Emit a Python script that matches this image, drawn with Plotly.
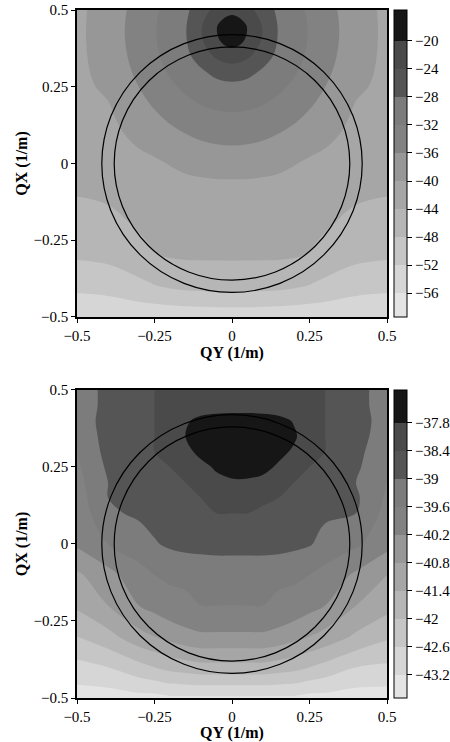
import plotly.graph_objects as go

# Grid coordinates (1/m)
qy = [-0.5, -0.4, -0.3, -0.25, -0.2, -0.15, -0.1, -0.05, 0.0,
      0.05, 0.1, 0.15, 0.2, 0.25, 0.3, 0.4, 0.5]
qx = [-0.5, -0.4, -0.3, -0.2, -0.1, 0.0, 0.1, 0.15, 0.2,
      0.25, 0.3, 0.35, 0.4, 0.45, 0.5]

# Upper map: levels (dB), one row per qx value
level_upper = [
    [-55.5, -55.3, -55.0, -54.9, -54.8, -54.7, -54.6, -54.5, -54.5, -54.5, -54.6, -54.7, -54.8, -54.9, -55.0, -55.3, -55.5],
    [-51.0, -50.5, -49.0, -48.2, -47.5, -47.0, -46.8, -46.6, -46.5, -46.6, -46.8, -47.0, -47.5, -48.2, -49.0, -50.5, -51.0],
    [-47.5, -47.0, -45.5, -44.2, -43.7, -43.5, -43.5, -43.5, -43.5, -43.5, -43.5, -43.5, -43.7, -44.2, -45.5, -47.0, -47.5],
    [-46.5, -45.5, -43.5, -43.1, -42.9, -42.8, -42.8, -42.8, -42.8, -42.8, -42.8, -42.8, -42.9, -43.1, -43.5, -45.5, -46.5],
    [-43.8, -43.2, -42.2, -42.0, -41.9, -41.8, -41.8, -41.8, -41.8, -41.8, -41.8, -41.8, -41.9, -42.0, -42.2, -43.2, -43.8],
    [-41.89, -41.31, -40.78, -40.55, -39.83, -39.09, -38.53, -38.19, -38.08, -38.19, -38.53, -39.09, -39.83, -40.55, -40.78, -41.31, -41.89],
    [-41.48, -40.82, -39.17, -37.93, -36.83, -35.90, -35.15, -34.68, -34.51, -34.68, -35.15, -35.90, -36.83, -37.93, -39.17, -40.82, -41.48],
    [-41.30, -40.60, -37.98, -36.63, -35.37, -34.25, -33.39, -32.84, -32.65, -32.84, -33.39, -34.25, -35.37, -36.63, -37.98, -40.60, -41.30],
    [-41.14, -40.08, -36.91, -35.40, -33.95, -32.69, -31.68, -31.02, -30.79, -31.02, -31.68, -32.69, -33.95, -35.40, -36.91, -40.08, -41.14],
    [-41.00, -39.33, -35.98, -34.27, -32.67, -31.23, -30.03, -29.22, -28.93, -29.22, -30.03, -31.23, -32.67, -34.27, -35.98, -39.33, -41.00],
    [-40.90, -38.74, -35.17, -33.34, -31.58, -29.94, -28.51, -26.86, -26.00, -26.86, -28.51, -29.94, -31.58, -33.34, -35.17, -38.74, -40.90],
    [-40.83, -38.34, -34.60, -32.67, -30.77, -28.93, -26.32, -23.31, -22.00, -23.31, -26.32, -28.93, -30.77, -32.67, -34.60, -38.34, -40.83],
    [-40.79, -38.11, -34.29, -32.30, -30.31, -28.34, -24.53, -20.53, -18.18, -20.53, -24.53, -28.34, -30.31, -32.30, -34.29, -38.11, -40.79],
    [-40.79, -38.10, -34.26, -32.26, -30.27, -28.28, -24.35, -20.19, -17.45, -20.19, -24.35, -28.28, -30.27, -32.26, -34.26, -38.10, -40.79],
    [-40.82, -38.27, -34.52, -32.57, -30.65, -28.77, -25.86, -22.66, -21.20, -22.66, -25.86, -28.77, -30.65, -32.57, -34.52, -38.27, -40.82],
]

# Lower map: levels (dB), one row per qx value
level_lower = [
    [-43.5, -43.5, -43.4, -43.4, -43.3, -43.3, -43.3, -43.3, -43.3, -43.3, -43.3, -43.3, -43.3, -43.4, -43.4, -43.5, -43.5],
    [-42.8, -42.6, -42.2, -42.0, -41.8, -41.7, -41.6, -41.6, -41.6, -41.6, -41.6, -41.7, -41.8, -42.0, -42.2, -42.6, -42.7],
    [-42.0, -41.6, -41.0, -40.8, -40.6, -40.4, -40.3, -40.3, -40.3, -40.3, -40.3, -40.4, -40.6, -40.8, -41.0, -41.5, -41.9],
    [-41.3, -40.8, -40.2, -40.0, -39.8, -39.7, -39.6, -39.6, -39.6, -39.6, -39.6, -39.7, -39.8, -40.0, -40.2, -40.8, -41.2],
    [-40.9, -40.4, -39.8, -39.6, -39.5, -39.5, -39.5, -39.5, -39.5, -39.5, -39.5, -39.5, -39.5, -39.6, -39.8, -40.3, -40.8],
    [-40.1, -39.6, -39.3, -39.05, -38.9, -38.8, -38.75, -38.7, -38.7, -38.7, -38.7, -38.75, -38.85, -38.95, -39.2, -39.5, -40.0],
    [-40.0, -39.1, -38.9, -38.8, -38.7, -38.6, -38.5, -38.4, -38.4, -38.4, -38.5, -38.6, -38.7, -38.8, -38.9, -39.0, -39.8],
    [-39.9, -39.0, -38.8, -38.7, -38.6, -38.5, -38.4, -38.3, -38.2, -38.2, -38.3, -38.4, -38.5, -38.6, -38.7, -38.9, -39.7],
    [-39.8, -39.0, -38.7, -38.6, -38.5, -38.4, -38.2, -38.0, -37.9, -37.9, -38.0, -38.2, -38.4, -38.5, -38.6, -39.0, -39.6],
    [-39.7, -38.9, -38.6, -38.5, -38.4, -38.2, -38.0, -37.7, -37.5, -37.5, -37.6, -37.9, -38.2, -38.4, -38.5, -38.9, -39.5],
    [-39.6, -38.8, -38.5, -38.4, -38.3, -38.0, -37.6, -37.4, -37.3, -37.3, -37.4, -37.6, -37.9, -38.3, -38.4, -38.8, -39.5],
    [-39.6, -38.7, -38.5, -38.4, -38.2, -37.8, -37.4, -37.3, -37.2, -37.2, -37.3, -37.4, -37.7, -38.2, -38.4, -38.7, -39.4],
    [-39.6, -38.6, -38.5, -38.4, -38.3, -37.9, -37.6, -37.5, -37.5, -37.5, -37.5, -37.6, -37.85, -38.3, -38.4, -38.6, -39.4],
    [-39.6, -38.7, -38.5, -38.4, -38.3, -38.25, -38.2, -38.15, -38.1, -38.1, -38.15, -38.2, -38.25, -38.3, -38.4, -38.7, -39.4],
    [-39.6, -38.7, -38.5, -38.4, -38.3, -38.25, -38.2, -38.15, -38.1, -38.1, -38.15, -38.2, -38.25, -38.3, -38.4, -38.7, -39.4],
]

# Colour-bar ranges and contour levels (the ticks are the contour levels)
upper_range = [-59.4, -15.6]
lower_range = [-43.7, -37.1]
upper_ticks = [-56, -52, -48, -44, -40, -36, -32, -28, -24, -20]
lower_ticks = [-43.2, -42.6, -42.0, -41.4, -40.8, -40.2, -39.6, -39.0, -38.4, -37.8]
upper_ticktext = ["\u221256", "\u221252", "\u221248", "\u221244", "\u221240",
                  "\u221236", "\u221232", "\u221228", "\u221224", "\u221220"]
lower_ticktext = ["\u221243.2", "\u221242.6", "\u221242", "\u221241.4", "\u221240.8",
                  "\u221240.2", "\u221239.6", "\u221239", "\u221238.4", "\u221237.8"]
axis_ticks = [-0.5, -0.25, 0, 0.25, 0.5]

# Radii of the two reference rings (1/m)
ring_radii = [0.38, 0.42]

# One gray per filled band, lowest band first
band_grays = ["#e4e4e4", "#d6d6d6", "#c6c6c6", "#b6b6b6", "#a6a6a6", "#979797",
              "#828282", "#7c7c7c", "#555555", "#4a4a4a", "#161616"]
# contour fills sample the scale at band centres, i.e. at k / (n - 1)
band_scale = [[k / (len(band_grays) - 1), g] for k, g in enumerate(band_grays)]

SERIF = "Liberation Serif"
tick_font = dict(family=SERIF, size=15, color="black")
title_font = dict(family=SERIF, size=16, color="black", weight="bold")

UP_DOM = [0.5538, 1.0]
LO_DOM = [0.0, 0.4477]


def colorbar(dom, ticks, text):
    return dict(
        x=1.0226, xanchor="left", xref="paper",
        y=dom[1], yanchor="top", len=dom[1] - dom[0], lenmode="fraction",
        thickness=13, thicknessmode="pixels",
        outlinewidth=1, outlinecolor="black",
        tickvals=ticks, ticktext=text,
        ticks="outside", ticklen=5, tickcolor="black", tickwidth=1,
        tickfont=tick_font, xpad=0, ypad=0,
    )


def filled_map(z, zrange, ticks, text, dom, xa, ya):
    step = round(ticks[1] - ticks[0], 6)
    return go.Contour(
        x=qy, y=qx, z=z,
        zmin=zrange[0], zmax=zrange[1],
        autocontour=False,
        contours=dict(start=ticks[0], end=ticks[-1], size=step,
                      coloring="fill", showlines=False),
        line=dict(width=0, smoothing=1.0),
        colorscale=band_scale,
        colorbar=colorbar(dom, ticks, text),
        xaxis=xa, yaxis=ya, hoverinfo="skip",
    )


fig = go.Figure()
fig.add_trace(filled_map(level_upper, upper_range, upper_ticks, upper_ticktext, UP_DOM, "x", "y"))
fig.add_trace(filled_map(level_lower, lower_range, lower_ticks, lower_ticktext, LO_DOM, "x2", "y2"))

for xr, yr in [("x", "y"), ("x2", "y2")]:
    for r in ring_radii:
        fig.add_shape(type="circle", xref=xr, yref=yr,
                      x0=-r, x1=r, y0=-r, y1=r,
                      line=dict(color="black", width=1.2), layer="above")


def axis_style(title, **kw):
    d = dict(
        range=[-0.5, 0.5], tickvals=axis_ticks, ticks="outside", ticklen=4,
        tickcolor="black", tickwidth=1.2, showgrid=False, zeroline=False,
        showline=True, linecolor="black", linewidth=1.6, mirror=True,
        tickfont=tick_font,
        title=dict(text=title, font=title_font, standoff=2),
    )
    d.update(kw)
    return d


fig.update_layout(
    width=450, height=742,
    margin=dict(l=77, r=63, t=10, b=44, autoexpand=False),
    paper_bgcolor="white", plot_bgcolor="white",
    showlegend=False,
    xaxis=axis_style("QY (1/m)", domain=[0, 1], anchor="y"),
    yaxis=axis_style("QX (1/m)", domain=UP_DOM, anchor="x"),
    xaxis2=axis_style("QY (1/m)", domain=[0, 1], anchor="y2"),
    yaxis2=axis_style("QX (1/m)", domain=LO_DOM, anchor="x2"),
)

fig.write_html("out.html")
